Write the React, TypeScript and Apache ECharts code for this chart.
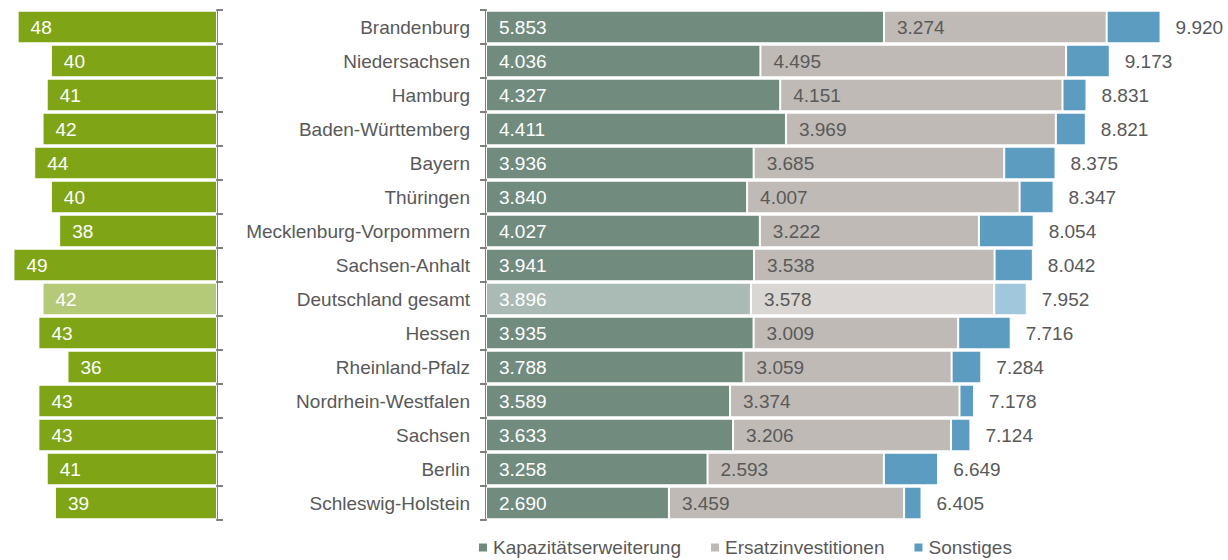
import React, { useEffect, useRef } from "react";
import * as echarts from "echarts";

const categories = [
  "Brandenburg",
  "Niedersachsen",
  "Hamburg",
  "Baden-Württemberg",
  "Bayern",
  "Thüringen",
  "Mecklenburg-Vorpommern",
  "Sachsen-Anhalt",
  "Deutschland gesamt",
  "Hessen",
  "Rheinland-Pfalz",
  "Nordrhein-Westfalen",
  "Sachsen",
  "Berlin",
  "Schleswig-Holstein",
];
const leftValues = [48, 40, 41, 42, 44, 40, 38, 49, 42, 43, 36, 43, 43, 41, 39];
const kapazitaet = [5853, 4036, 4327, 4411, 3936, 3840, 4027, 3941, 3896, 3935, 3788, 3589, 3633, 3258, 2690];
const ersatz = [3274, 4495, 4151, 3969, 3685, 4007, 3222, 3538, 3578, 3009, 3059, 3374, 3206, 2593, 3459];
const sonstiges = [793, 642, 353, 441, 754, 500, 805, 563, 478, 772, 437, 215, 285, 798, 256];
const totals = [9920, 9173, 8831, 8821, 8375, 8347, 8054, 8042, 7952, 7716, 7284, 7178, 7124, 6649, 6405];
const seriesNames = ["Kapazitätserweiterung", "Ersatzinvestitionen", "Sonstiges"];
const highlightIndex = 8;

const FONT = "'Liberation Sans', Arial, sans-serif";
const FS = 19;
const GREY_TEXT = "#595959";

const fmt = (v: number) => {
  const th = Math.floor(v / 1000);
  const rest = v % 1000;
  return th > 0 ? th + "." + String(rest).padStart(3, "0") : String(rest);
};

const withHighlight = (vals: number[], normal: string, light: string) =>
  vals.map((v, i) => ({
    value: v,
    itemStyle: { color: i === highlightIndex ? light : normal },
  }));

export default function App() {
  const ref = useRef<HTMLDivElement>(null);
  useEffect(() => {
    document.body.style.margin = "0";
    if (!ref.current) return;
    const chart = echarts.init(ref.current, undefined, { renderer: "svg" });
    const axisLineStyle = { color: "#7f7f7f", width: 2 };
    chart.setOption({
      animation: false,
      textStyle: { fontFamily: FONT },
      grid: [
        { left: 1, top: 10, width: 216, height: 510 },
        { left: 486, top: 10, width: 680, height: 510 },
      ],
      legend: {
        data: seriesNames,
        left: 472,
        top: 533,
        itemWidth: 10,
        itemHeight: 10,
        itemGap: 28,
        icon: "rect",
        textStyle: { fontSize: FS, color: GREY_TEXT, fontFamily: FONT },
      },
      xAxis: [
        { gridIndex: 0, type: "value", min: 0, max: 52, inverse: true, show: false },
        { gridIndex: 1, type: "value", min: 0, max: 10000, show: false },
      ],
      yAxis: [
        {
          gridIndex: 0,
          type: "category",
          data: categories,
          inverse: true,
          position: "right",
          axisLine: { show: true, lineStyle: axisLineStyle },
          axisTick: { show: true, length: 6, lineStyle: axisLineStyle },
          axisLabel: { show: false },
          splitLine: { show: false },
        },
        {
          gridIndex: 1,
          type: "category",
          data: categories,
          inverse: true,
          position: "left",
          axisLine: { show: true, lineStyle: axisLineStyle },
          axisTick: { show: true, length: 6, lineStyle: axisLineStyle },
          axisLabel: { margin: 16, fontSize: FS, color: GREY_TEXT, fontFamily: FONT },
          splitLine: { show: false },
        },
      ],
      series: [
        {
          name: "Anteil",
          type: "bar",
          xAxisIndex: 0,
          yAxisIndex: 0,
          barCategoryGap: "4%",
          data: withHighlight(leftValues, "#7fa517", "#b4ca78"),
          itemStyle: { borderColor: "#ffffff", borderWidth: 1 },
          label: {
            show: true,
            position: "insideLeft",
            distance: 13,
            color: "#ffffff",
            fontSize: FS,
            fontFamily: FONT,
          },
        },
        {
          name: seriesNames[0],
          type: "bar",
          stack: "total",
          xAxisIndex: 1,
          yAxisIndex: 1,
          barCategoryGap: "4%",
          data: withHighlight(kapazitaet, "#718b7f", "#aabab4"),
          itemStyle: { color: "#718b7f", borderColor: "#ffffff", borderWidth: 1 },
          label: {
            show: true,
            position: "insideLeft",
            distance: 13,
            color: "#ffffff",
            fontSize: FS,
            fontFamily: FONT,
            formatter: (p: any) => fmt(p.value),
          },
        },
        {
          name: seriesNames[1],
          type: "bar",
          stack: "total",
          xAxisIndex: 1,
          yAxisIndex: 1,
          data: withHighlight(ersatz, "#bfbab6", "#dad6d3"),
          itemStyle: { color: "#bfbab6", borderColor: "#ffffff", borderWidth: 1 },
          label: {
            show: true,
            position: "insideLeft",
            distance: 13,
            color: GREY_TEXT,
            fontSize: FS,
            fontFamily: FONT,
            formatter: (p: any) => fmt(p.value),
          },
        },
        {
          name: seriesNames[2],
          type: "bar",
          stack: "total",
          xAxisIndex: 1,
          yAxisIndex: 1,
          data: withHighlight(sonstiges, "#5b9cc0", "#a0c7dc"),
          itemStyle: { color: "#5b9cc0", borderColor: "#ffffff", borderWidth: 1 },
          label: {
            show: true,
            position: "right",
            distance: 15,
            color: GREY_TEXT,
            fontSize: FS,
            fontFamily: FONT,
            formatter: (p: any) => fmt(totals[p.dataIndex]),
          },
        },
      ],
    });
    return () => chart.dispose();
  }, []);
  return <div ref={ref} style={{ width: 1228, height: 560 }} />;
}
